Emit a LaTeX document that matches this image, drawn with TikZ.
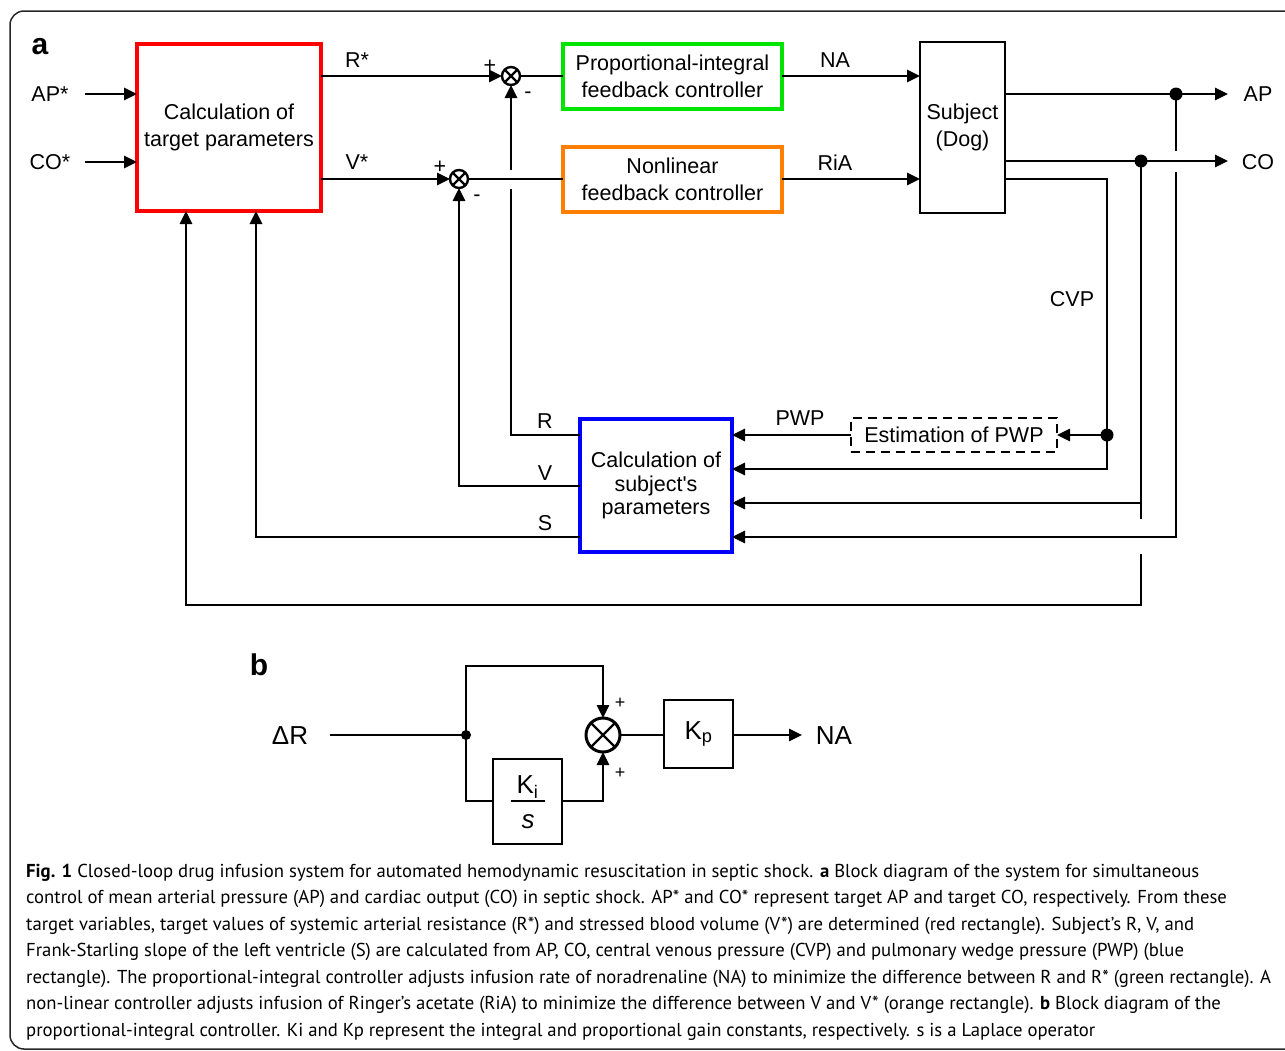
\documentclass[tikz,border=0pt]{standalone}
\usepackage{fontspec}
\setmainfont{Liberation Sans}
\newfontfamily\arialnm{Liberation Sans}
\newfontfamily\capfont{PT Sans}
\usetikzlibrary{arrows.meta}
\begin{document}
\begin{tikzpicture}[x=1pt,y=-1pt,
  ln/.style={line width=2.6pt},
  arr/.style={ln,-{Triangle[length=13pt,width=12pt]}},
  txt/.style={font=\fontsize{21.5}{27}\selectfont, inner sep=0pt},
  blk/.style={draw, line width=2.6pt, inner sep=0pt, outer sep=0pt, align=center, txt},
  cbox/.style={blk, line width=4pt},
  sumj/.style={circle, draw, line width=2.4pt, minimum size=18pt, inner sep=0pt, outer sep=0pt,
    path picture={\draw[line width=2.2pt] (path picture bounding box.north west) -- (path picture bounding box.south east) (path picture bounding box.south west) -- (path picture bounding box.north east);}},
  dot/.style={circle, fill, inner sep=0pt, minimum size=13pt},
  sdot/.style={circle, fill, inner sep=0pt, minimum size=10pt},
  lbl/.style={font=\fontsize{30}{30}\selectfont\bfseries, inner sep=0pt},
  btxt/.style={font=\fontsize{26}{30}\selectfont, inner sep=0pt},
  capl/.style={anchor=base west, inner sep=0pt, font=\capfont\fontsize{18.7}{26}\selectfont}
]
\useasboundingbox (0,0) rectangle (1285,1050);
% frame
\draw[line width=1.5pt, rounded corners=14pt, black!85] (1320,11) -- (10,11) -- (10,1049) -- (1320,1049);

% ---------- part a ----------
\node[lbl] (la) at (40,47) {a};
\node[cbox, draw=red, minimum width=184pt, minimum height=167pt] (red) at (229,127.5) {Calculation of\\target parameters};
\node[cbox, draw=green!90!black, minimum width=219pt, minimum height=65pt] (green) at (672.5,76) {Proportional-integral\\feedback controller};
\node[cbox, draw=orange, minimum width=219pt, minimum height=65pt] (orange) at (672.5,179) {Nonlinear\\feedback controller};
\node[blk, minimum width=85pt, minimum height=171pt] (subj) at (962.5,127.5) {Subject\\(Dog)};
\node[cbox, draw=blue, minimum width=152pt, minimum height=133pt, font=\fontsize{21.5}{23.5}\selectfont] (blue) at (656,485.5) {Calculation of\\{\arialnm subject's}\\parameters};
\node[blk, dashed, dash pattern=on 9pt off 6pt, minimum width=206pt, minimum height=34pt] (est) at (954,435) {Estimation of PWP};

\node[sumj] (s1) at (511,76) {};
\node[sumj] (s2) at (459,179) {};

% text labels
\node[txt] (apst) at (50,94) {AP*};
\node[txt] (cost) at (50,162) {CO*};
\node[txt] (rst) at (357,60) {R*};
\node[txt] (vst) at (357,162) {V*};
\node[txt] (na) at (835,60) {NA};
\node[txt] (ria) at (835,163) {RiA};
\node[txt] (apo) at (1258,94) {AP};
\node[txt] (coo) at (1258,162) {CO};
\node[txt] (cvp) at (1072,299) {CVP};
\node[txt] (pwp) at (800,418) {PWP};
\node[txt] (rl) at (545,421) {R};
\node[txt] (vl) at (545,473) {V};
\node[txt] (sl) at (545,523) {S};
\node[txt] (p1) at (490,66) {+};
\node[txt] (m1) at (528,95) {-};
\node[txt] (p2) at (440,167) {+};
\node[txt] (m2) at (477,198) {-};

% coordinates
\coordinate (apin) at (85,94);
\coordinate (coin) at (85,162);
\coordinate (apout) at (1228,94);
\coordinate (coout) at (1228,161);
\coordinate (apD) at (1176,94);
\coordinate (apG1) at (1176,151);
\coordinate (apG2) at (1176,172);
\coordinate (apB) at (1176,537);
\coordinate (coD) at (1141,161);
\coordinate (coB) at (1141,503);
\coordinate (coG1) at (1141,519);
\coordinate (coG2) at (1141,554);
\coordinate (coC) at (1141,605);
\coordinate (fbL) at (186,605);
\coordinate (cvpA) at (1107,179);
\coordinate (cvpD) at (1107,435);
\coordinate (cvpB) at (1107,469);
\coordinate (sL) at (256,537);
\coordinate (vL) at (459,486);
\coordinate (rL) at (511,435);
\coordinate (rG1) at (511,189);
\coordinate (rG2) at (511,170);

% connectors
\draw[arr] (apin) -- (red.west|-apin);
\draw[arr] (coin) -- (red.west|-coin);
\draw[arr] (red.east|-s1) -- (s1.west);
\draw[arr] (red.east|-s2) -- (s2.west);
\draw[ln] (s1.east) -- (green.west);
\draw[ln] (s2.east) -- (orange.west);
\draw[arr] (green.east) -- (subj.west|-green.east);
\draw[arr] (orange.east) -- (subj.west|-orange.east);
\draw[arr] (subj.east|-apout) -- (apout);
\draw[arr] (subj.east|-coout) -- (coout);
\draw[arr] (subj.east|-cvpA) -- (cvpA) -- (cvpB) -- (blue.east|-cvpB);
\draw[arr] (cvpD) -- (est.east);
\draw[arr] (est.west) -- (blue.east|-est.west);
\draw[arr] (coD) -- (coB) -- (blue.east|-coB);
\draw[ln] (coB) -- (coG1);
\draw[arr] (coG2) -- (coC) -- (fbL) -- (red.south-|fbL);
\draw[ln] (apD) -- (apG1);
\draw[arr] (apG2) -- (apB) -- (blue.east|-apB);
\draw[arr] (blue.west|-sL) -- (sL) -- (red.south-|sL);
\draw[arr] (blue.west|-vL) -- (vL) -- (s2.south);
\draw[ln] (blue.west|-rL) -- (rL) -- (rG1);
\draw[arr] (rG2) -- (s1.south);
\node[dot] at (apD) {};
\node[dot] at (coD) {};
\node[dot] at (cvpD) {};

% ---------- part b ----------
\node[lbl] (lb) at (259,665) {b};
\node[btxt] (dr) at (290,736) {ΔR};
\node[btxt] (nab) at (834,736) {NA};
\node[sumj, minimum size=34pt, line width=3pt] (bs) at (603,735) {};
\node[blk, minimum width=69pt, minimum height=85pt] (ki) at (527.5,801.5) {};
\node[blk, minimum width=69pt, minimum height=68pt] (kp) at (698.5,734) {};
\node[btxt] (kpt) at (kp.center) {K\textsubscript{p}};
\node[btxt] (kit) at (527.5,787) {K\textsubscript{i}};
\node[btxt] (kis) at (528,822) {\itshape s};
\draw[line width=1.6pt] (511,801) -- (545,801);
\node[font=\fontsize{18}{18}\selectfont, inner sep=0pt] (bp1) at (620,703) {+};
\node[font=\fontsize{18}{18}\selectfont, inner sep=0pt] (bp2) at (620,773) {+};
\coordinate (bin) at (330,735);
\coordinate (bdot) at (466,735);
\coordinate (btl) at (466,666);
\coordinate (btr) at (603,666);
\coordinate (bbl) at (466,801);
\coordinate (bbr) at (603,801);
\coordinate (bout) at (802,735);
\draw[ln] (bin) -- (bdot);
\draw[arr] (bdot) -- (btl) -- (btr) -- (bs.north);
\draw[ln] (bdot) -- (bbl) -- (ki.west|-bbl);
\draw[arr] (ki.east|-bbr) -- (bbr) -- (bs.south);
\draw[ln] (bs.east) -- (kp.west|-bs.east);
\draw[arr] (kp.east|-bout) -- (bout);
\node[sdot] at (bdot) {};

% ---------- caption ----------
\node[capl] (c1) at (26,877) {\textbf{Fig. 1} Closed-loop drug infusion system for automated hemodynamic resuscitation in septic shock. \textbf{a} Block diagram of the system for simultaneous};
\node[capl] (c2) at (26,903.5) {control of mean arterial pressure (AP) and cardiac output (CO) in septic shock. AP* and CO* represent target AP and target CO, respectively. From these};
\node[capl] (c3) at (26,930) {target variables, target values of systemic arterial resistance (R*) and stressed blood volume (V*) are determined (red rectangle). Subject’s R, V, and};
\node[capl] (c4) at (26,956.5) {Frank-Starling slope of the left ventricle (S) are calculated from AP, CO, central venous pressure (CVP) and pulmonary wedge pressure (PWP) (blue};
\node[capl] (c5) at (26,983) {rectangle). The proportional-integral controller adjusts infusion rate of noradrenaline (NA) to minimize the difference between R and R* (green rectangle). A};
\node[capl] (c6) at (26,1009.5) {non-linear controller adjusts infusion of Ringer’s acetate (RiA) to minimize the difference between V and V* (orange rectangle). \textbf{b} Block diagram of the};
\node[capl] (c7) at (26,1036) {proportional-integral controller. Ki and Kp represent the integral and proportional gain constants, respectively. s is a Laplace operator};
\end{tikzpicture}
\end{document}
